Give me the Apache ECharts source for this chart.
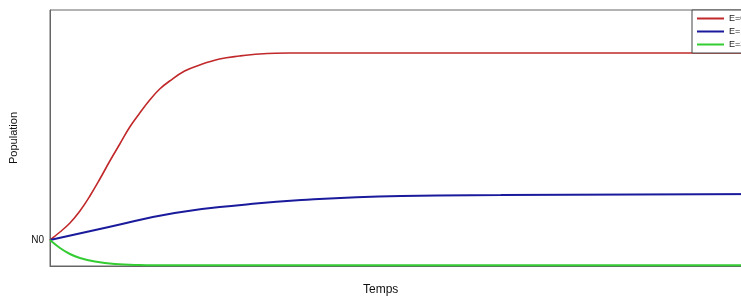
<!DOCTYPE html>
<html>
<head>
<meta charset="utf-8">
<script src="https://cdn.jsdelivr.net/npm/echarts@6/dist/echarts.min.js"></script>
<style>
  html, body { margin: 0; padding: 0; background: #fff; overflow: hidden; }
  /* the original picture is cut off on the right, so draw wider and let the window clip it */
  #chart { width: 770px; height: 297px; }
</style>
</head>
<body>
<div id="chart"></div>
<script>
// temps / population points
const n0 = 26;
const redT = [0, 10, 20, 30, 40, 50, 60, 70, 80, 90, 100, 110, 120, 135, 150, 170, 190, 210, 240, 300, 720];
const redY = [26, 34, 43, 55, 70, 87, 105, 122, 139, 153, 166, 177, 185, 195, 201, 207, 210, 212, 213, 213, 213];
const blueT = [0, 59, 125, 192, 252, 352, 452, 720];
const blueY = [26, 39, 53, 61, 66, 70, 71, 72];
const greenT = [0, 10, 20, 30, 45, 65, 90, 120, 720];
const greenY = [26, 18, 12, 8, 4.5, 2, 1, 0.7, 0.7];
const names = ["E=0", "E=1", "E=3"];

const pairs = (t, y) => t.map((v, i) => [v, y[i]]);

const chart = echarts.init(document.getElementById("chart"));
const option = {
  animation: false,
  textStyle: { fontFamily: "Liberation Sans, Arial, sans-serif" },
  grid: {
    left: 48,
    right: 2,
    top: 10,
    bottom: 31,
    show: true,
    borderColor: "#666",
    borderWidth: 1,
  },
  legend: {
    orient: "vertical",
    left: 692,
    top: 10,
    icon: "rect",
    itemWidth: 27,
    itemHeight: 2,
    itemGap: 2,
    padding: [3, 20, 3, 5],
    borderColor: "#444",
    borderWidth: 1,
    backgroundColor: "#fff",
    textStyle: { fontSize: 9, color: "#222", lineHeight: 11 },
    data: names,
  },
  xAxis: {
    type: "value",
    min: 0,
    max: 720,
    axisLine: { show: true, lineStyle: { color: "#666" } },
    axisTick: { show: false },
    axisLabel: { show: false },
    splitLine: { show: false },
  },
  yAxis: {
    type: "value",
    min: 0,
    max: 256,
    name: "Population",
    nameLocation: "middle",
    nameGap: 31,
    nameTextStyle: { fontSize: 11, color: "#111" },
    axisLine: { show: true, lineStyle: { color: "#666" } },
    axisTick: { show: false },
    axisLabel: {
      customValues: [n0],
      formatter: () => "N0",
      fontSize: 10,
      color: "#111",
      margin: 6,
    },
    splitLine: { show: false },
  },
  graphic: [
    {
      type: "text",
      left: 363,
      top: 284,
      style: { text: "Temps", fontSize: 12, fill: "#111", fontFamily: "Liberation Sans, Arial, sans-serif" },
    },
  ],
  series: [
    {
      name: names[0],
      type: "line",
      smooth: 0.4,
      showSymbol: false,
      lineStyle: { color: "#c0282a", width: 1.6 },
      itemStyle: { color: "#c0282a" },
      data: pairs(redT, redY),
    },
    {
      name: names[1],
      type: "line",
      smooth: true,
      showSymbol: false,
      lineStyle: { color: "#1a1a9c", width: 2 },
      itemStyle: { color: "#1a1a9c" },
      data: pairs(blueT, blueY),
    },
    {
      name: names[2],
      type: "line",
      smooth: 0.4,
      showSymbol: false,
      lineStyle: { color: "#33cc33", width: 2 },
      itemStyle: { color: "#33cc33" },
      data: pairs(greenT, greenY),
    },
  ],
};
chart.setOption(option);
</script>
</body>
</html>
